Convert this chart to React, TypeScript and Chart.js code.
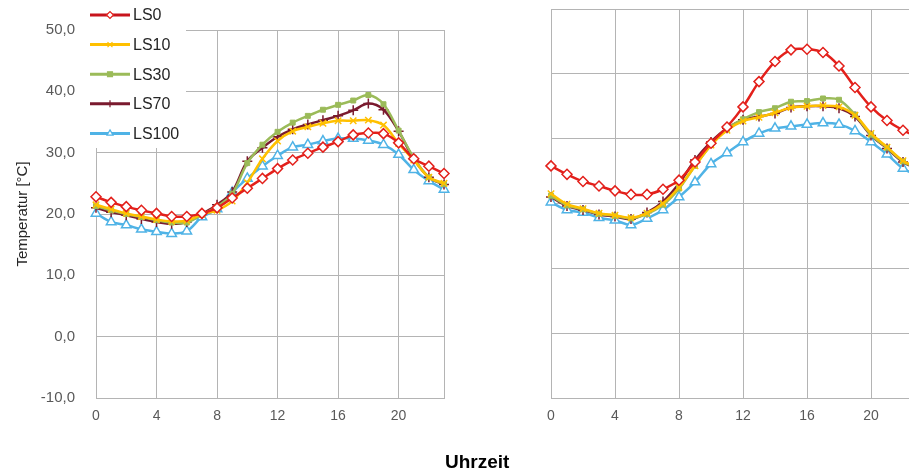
import React, { useEffect, useRef } from "react";
import { Chart, registerables } from "chart.js";
import { drawPoint } from "chart.js/helpers";

Chart.register(...registerables);

// ---------- data ----------
const HOURS = [0, 1, 2, 3, 4, 5, 6, 7, 8, 9, 10, 11, 12, 13, 14, 15, 16, 17, 18, 19, 20, 21, 22, 23];
const X_TICKS = [0, 4, 8, 12, 16, 20, 23];
const Y_TICKS = [-10, 0, 10, 20, 30, 40, 50];
const SERIES_NAMES = ["LS0", "LS10", "LS30", "LS70", "LS100"];
const Y_TITLE = "Temperatur [°C]";
const X_TITLE = "Uhrzeit";

// left panel
const LS0_LEFT = [22.8, 21.9, 21.2, 20.6, 20.1, 19.6, 19.6, 20.1, 21.0, 22.6, 24.2, 25.8, 27.4, 28.8, 29.9, 30.9, 31.8, 32.9, 33.2, 33.1, 31.6, 29.0, 27.8, 26.6];
const LS10_LEFT = [21.5, 20.8, 20.1, 19.6, 19.1, 18.8, 18.9, 20.0, 20.6, 22.1, 25.1, 29.0, 31.9, 33.5, 34.2, 34.8, 35.2, 35.2, 35.3, 34.5, 31.5, 28.8, 26.0, 25.0];
const LS30_LEFT = [21.3, 20.6, 20.0, 19.5, 19.0, 18.6, 18.6, 19.9, 21.2, 23.3, 28.3, 31.3, 33.4, 34.9, 36.0, 37.0, 37.8, 38.5, 39.4, 37.9, 33.6, 29.2, 26.0, 24.9];
const LS70_LEFT = [21.0, 20.3, 19.8, 19.2, 18.7, 18.4, 18.7, 20.0, 21.5, 23.6, 28.6, 30.8, 32.6, 33.8, 34.6, 35.3, 36.0, 36.9, 38.0, 37.0, 33.5, 29.0, 26.0, 24.8];
const LS100_LEFT = [20.1, 18.7, 18.2, 17.5, 17.1, 16.8, 17.2, 19.5, 20.8, 23.5, 25.8, 27.8, 29.5, 30.9, 31.3, 31.9, 32.3, 32.3, 32.0, 31.3, 29.7, 27.2, 25.4, 24.0];

// right panel
const LS0_RIGHT = [25.8, 24.5, 23.4, 22.7, 21.95, 21.4, 21.4, 22.2, 23.6, 26.4, 29.3, 31.8, 34.9, 38.8, 41.9, 43.7, 43.8, 43.3, 41.2, 37.9, 34.9, 32.8, 31.3, 30.2];
const LS10_RIGHT = [21.5, 19.9, 19.2, 18.5, 18.2, 17.8, 18.5, 20.0, 22.5, 25.8, 29.0, 31.3, 32.7, 33.3, 34.0, 34.8, 35.0, 35.1, 34.9, 33.6, 30.8, 28.7, 26.6, 25.5];
const LS30_RIGHT = [21.2, 19.7, 19.1, 18.4, 18.1, 17.7, 18.4, 19.8, 22.3, 25.8, 29.0, 31.5, 33.0, 34.1, 34.7, 35.7, 35.8, 36.2, 36.0, 33.7, 30.6, 28.6, 26.5, 25.4];
const LS70_RIGHT = [21.0, 19.6, 19.0, 18.3, 18.0, 17.6, 18.6, 20.3, 23.1, 26.7, 29.5, 31.6, 32.9, 33.4, 33.9, 34.8, 35.0, 35.0, 34.7, 33.4, 30.5, 28.5, 26.4, 25.3];
const LS100_RIGHT = [20.2, 19.0, 18.6, 17.8, 17.4, 16.7, 17.7, 19.0, 21.0, 23.3, 26.1, 27.8, 29.5, 30.8, 31.6, 31.9, 32.2, 32.4, 32.2, 31.2, 29.5, 27.6, 25.4, 24.3];

const LEFT_VALUES = [LS0_LEFT, LS10_LEFT, LS30_LEFT, LS70_LEFT, LS100_LEFT];
const RIGHT_VALUES = [LS0_RIGHT, LS10_RIGHT, LS30_RIGHT, LS70_RIGHT, LS100_RIGHT];

// ---------- styles ----------
const FONT = "'Liberation Sans', Arial, sans-serif";
const GRID = "#b4b4b4";
const TICK_COLOR = "#595959";
const STYLES = [
  { color: "#e3201b", pointStyle: "rectRot", radius: 5, fill: "#ffffff", pw: 1.5 },
  { color: "#ffc000", pointStyle: "crossRot", radius: 4.5, fill: "#ffc000", pw: 1.5 },
  { color: "#9bbb59", pointStyle: "rect", radius: 3.5, fill: "#9bbb59", pw: 1 },
  { color: "#7a1a2e", pointStyle: "cross", radius: 5, fill: "#7a1a2e", pw: 1.5 },
  { color: "#4fb3e6", pointStyle: "triangle", radius: 5.5, fill: "#ffffff", pw: 1.5 },
];

function makeDatasets(values: number[][]) {
  return values.map((vals, i) => {
    const s = STYLES[i];
    return {
      label: SERIES_NAMES[i],
      data: HOURS.map((h, k) => ({ x: h, y: vals[k] })),
      borderColor: s.color,
      backgroundColor: s.fill,
      borderWidth: 2.5,
      pointStyle: s.pointStyle,
      pointRadius: s.radius,
      pointBorderWidth: s.pw,
      pointBorderColor: s.color,
      pointBackgroundColor: s.fill,
      tension: 0.35,
      clip: false,
    };
  });
}

const legendPlugin = {
  id: "boxLegend",
  beforeDatasetsDraw(chart: any) {
    const ctx = chart.ctx;
    ctx.save();
    ctx.fillStyle = "#ffffff";
    ctx.fillRect(84, 0, 102, 148);
    ctx.restore();
  },
  afterDatasetsDraw(chart: any) {
    const ctx = chart.ctx;
    chart.data.datasets.forEach((ds: any, i: number) => {
      const y = 15 + i * 29.6;
      ctx.save();
      ctx.strokeStyle = i === 0 ? "#c8141c" : ds.borderColor;
      ctx.lineWidth = 3;
      ctx.beginPath();
      ctx.moveTo(90, y);
      ctx.lineTo(130, y);
      ctx.stroke();
      ctx.fillStyle = ds.pointBackgroundColor;
      ctx.strokeStyle = ds.pointBorderColor;
      ctx.lineWidth = 1.2;
      drawPoint(ctx, { pointStyle: ds.pointStyle, radius: 3.5, rotation: 0, borderWidth: 1.2 }, 110, y);
      ctx.fillStyle = "#262626";
      ctx.font = `16px ${FONT}`;
      ctx.textBaseline = "middle";
      ctx.textAlign = "left";
      ctx.fillText(ds.label, 133, y + 1);
      ctx.restore();
    });
  },
};

function makeConfig(values: number[][], left: boolean): any {
  return {
    type: "line",
    data: { datasets: makeDatasets(values) },
    plugins: left ? [legendPlugin] : [],
    options: {
      animation: false,
      responsive: false,
      layout: { padding: left ? { top: 12, right: 16, left: 0, bottom: 0 } : { top: 9, right: 10, left: 0, bottom: 0 } },
      plugins: { legend: { display: false }, tooltip: { enabled: false } },
      scales: {
        x: {
          type: "linear",
          min: 0,
          max: 23,
          afterBuildTicks: (s: any) => {
            s.ticks = X_TICKS.map((v) => ({ value: v }));
          },
          afterFit: (s: any) => {
            s.height = 77;
          },
          ticks: {
            autoSkip: false,
            maxRotation: 0,
            padding: 10,
            color: TICK_COLOR,
            font: { family: FONT, size: 14 },
            callback: (v: any) => (v === 23 ? "" : String(v)),
          },
          grid: { color: GRID, drawTicks: false, lineWidth: 1 },
          border: { color: GRID },
        },
        y: {
          type: "linear",
          min: -10,
          max: 50,
          afterBuildTicks: (s: any) => {
            s.ticks = Y_TICKS.map((v) => ({ value: v }));
          },
          afterFit: (s: any) => {
            s.width = left ? 96 : 91;
          },
          ticks: {
            display: left,
            padding: 21,
            color: TICK_COLOR,
            font: { family: FONT, size: 15 },
            callback: (v: any) => Number(v).toFixed(1).replace(".", ","),
          },
          title: {
            display: left,
            text: Y_TITLE,
            color: "#262626",
            font: { family: FONT, size: 15 },
            padding: { top: 14, bottom: 0 },
          },
          grid: { color: GRID, drawTicks: false, lineWidth: 1 },
          border: { color: GRID },
        },
      },
    },
  };
}

function Panel({ values, left, x, width }: { values: number[][]; left: boolean; x: number; width: number }) {
  const ref = useRef<HTMLCanvasElement | null>(null);
  useEffect(() => {
    if (!ref.current) return;
    const chart = new Chart(ref.current, makeConfig(values, left));
    return () => chart.destroy();
  }, [values, left]);
  return (
    <canvas
      ref={ref}
      width={width}
      height={475}
      style={{ position: "absolute", left: x, top: 0, width, height: 475 }}
    />
  );
}

export default function App() {
  return (
    <div
      style={{
        position: "fixed",
        left: 0,
        top: 0,
        width: 909,
        height: 475,
        overflow: "hidden",
        background: "#ffffff",
      }}
    >
      <Panel values={LEFT_VALUES} left={true} x={0} width={460} />
      <Panel values={RIGHT_VALUES} left={false} x={460} width={469} />
      <div
        style={{
          position: "absolute",
          left: 445,
          top: 452,
          fontFamily: FONT,
          fontWeight: "bold",
          fontSize: 19,
          color: "#000000",
          lineHeight: "20px",
        }}
      >
        {X_TITLE}
      </div>
    </div>
  );
}
